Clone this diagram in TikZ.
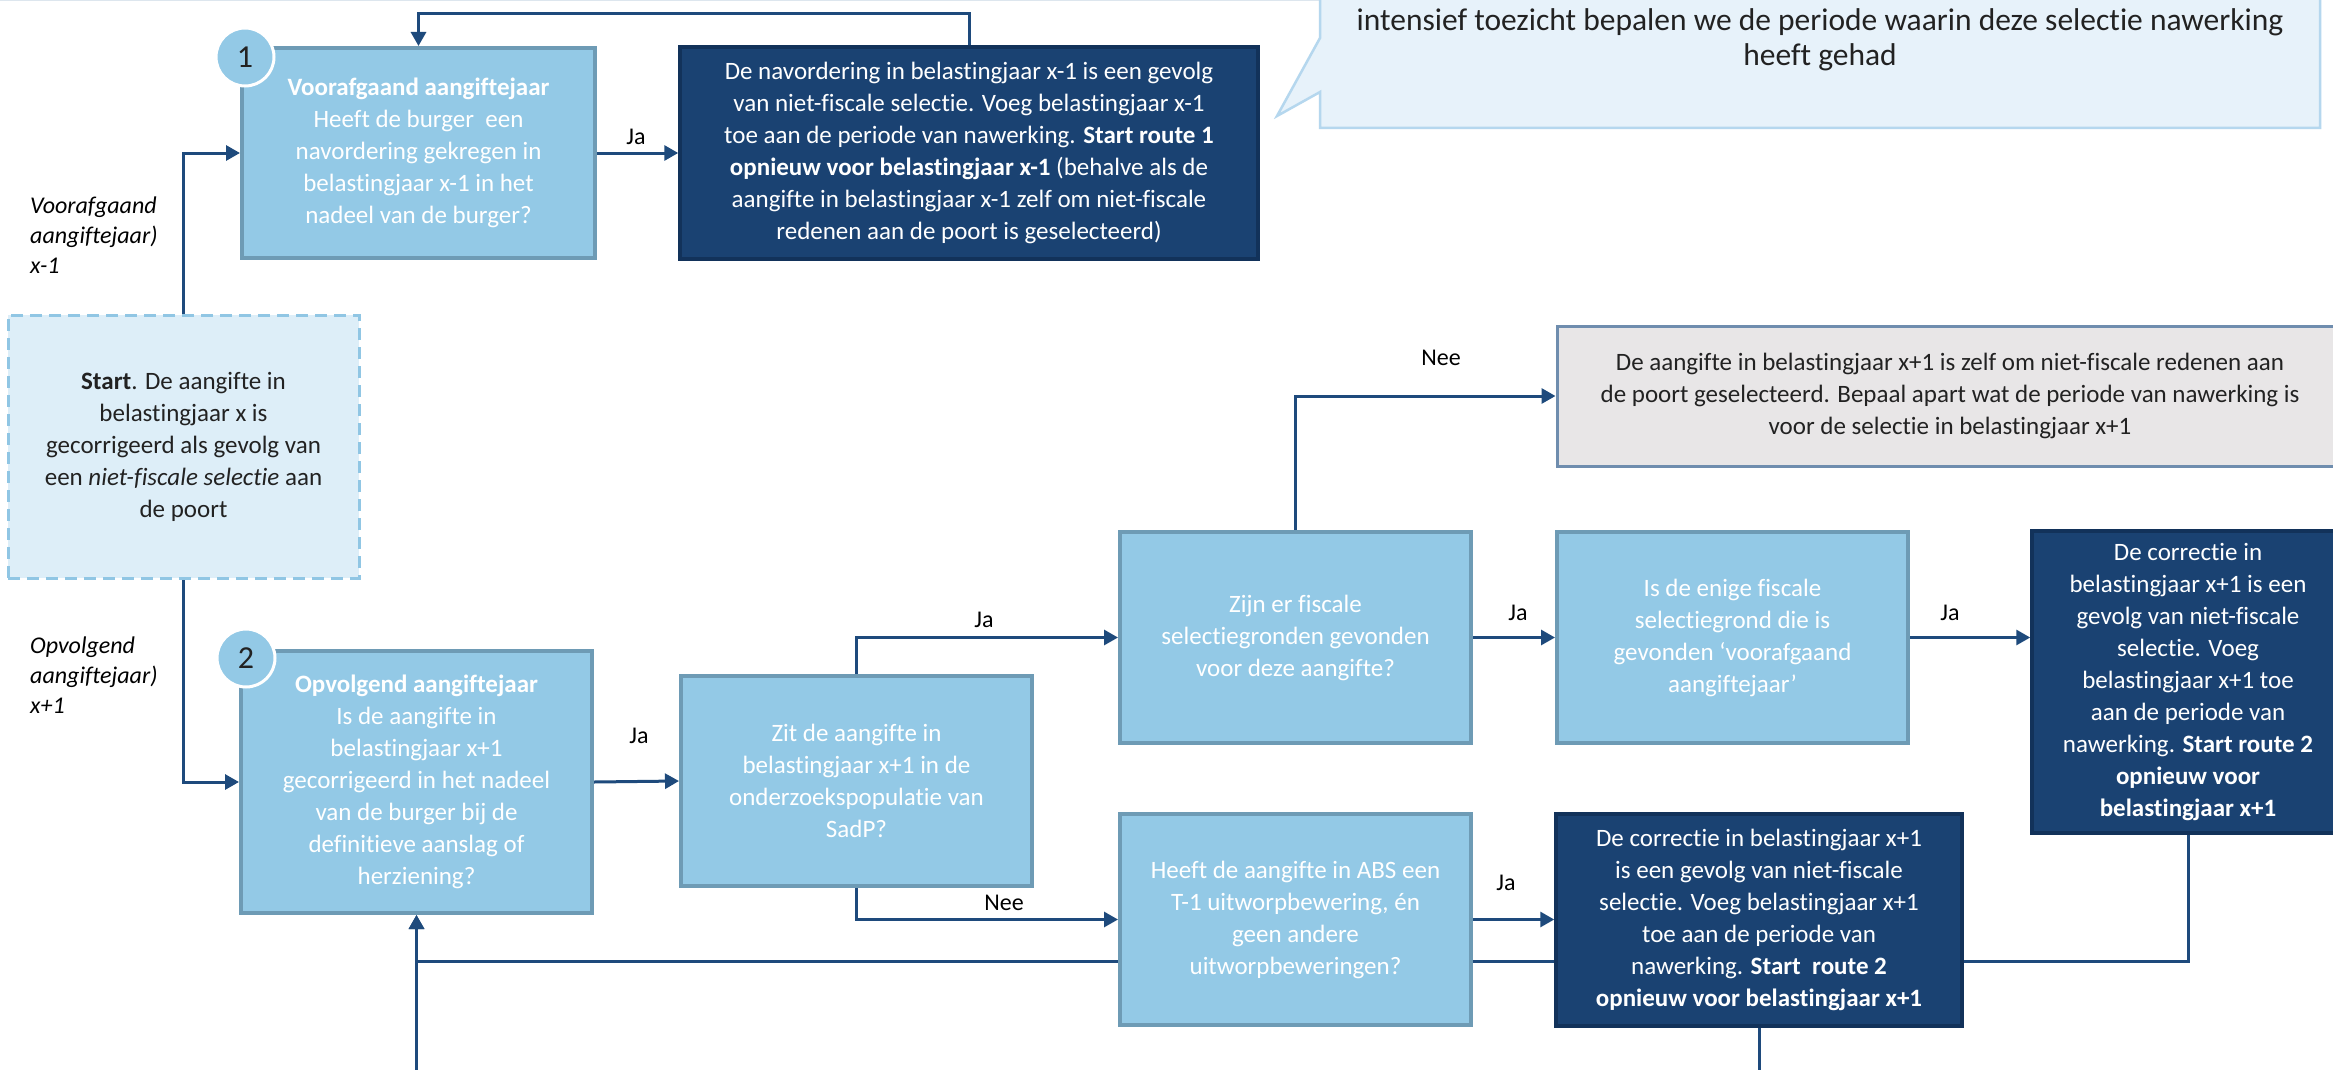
\documentclass[tikz,border=0pt]{standalone}
\usepackage{fontspec}
\setmainfont{Carlito}[Ligatures=NoCommon]
\usetikzlibrary{arrows.meta,backgrounds}
\definecolor{lightfill}{HTML}{93C9E6}
\definecolor{lightborder}{HTML}{6E9BB5}
\definecolor{darkfill}{HTML}{1A4272}
\definecolor{darkborder}{HTML}{12325A}
\definecolor{linecol}{HTML}{1E4A7C}
\definecolor{startfill}{HTML}{DDEEF8}
\definecolor{startborder}{HTML}{90C6E4}
\definecolor{greyfill}{HTML}{E8E6E7}
\definecolor{greyborder}{HTML}{6F8DAE}
\definecolor{calloutfill}{HTML}{E7F2FA}
\definecolor{calloutborder}{HTML}{B5D7EE}
\definecolor{textdark}{HTML}{222222}
\definecolor{topline}{HTML}{DDE6EE}
\begin{document}
\begin{tikzpicture}[x=1pt,y=-1pt,
  boxfont/.style={font=\fontsize{25}{32}\selectfont},
  lbox/.style={boxfont, draw=lightborder, fill=lightfill, line width=4pt, text=white, align=center, inner sep=0pt},
  dbox/.style={boxfont, draw=darkborder, fill=darkfill, line width=3.5pt, text=white, align=center, inner sep=0pt},
  gbox/.style={boxfont, draw=greyborder, fill=greyfill, line width=3pt, text=textdark, align=center, inner sep=0pt},
  sbox/.style={boxfont, draw=startborder, fill=startfill, line width=3pt, dash pattern=on 12pt off 7pt, text=textdark, align=center, inner sep=0pt},
  conn/.style={draw=linecol, line width=3pt, -{Triangle[length=14pt,width=15pt]}},
  lbl/.style={font=\fontsize{24}{30}\selectfont, text=black, inner sep=0pt},
  side/.style={font=\fontsize{24}{30}\selectfont\itshape, text=black, align=left, inner sep=0pt, anchor=west},
  numcirc/.style={circle, fill=lightfill, draw=white, line width=3pt, minimum size=58pt, inner sep=0pt, font=\fontsize{32}{32}\selectfont, text=textdark}
]
\useasboundingbox (0,0) rectangle (2333,1070);
\clip (0,0) rectangle (2333,1070);
% faint top line
\draw[topline, line width=3pt] (0,0) -- (1320,0);

% callout
\draw[calloutborder, fill=calloutfill, line width=2.5pt, line join=miter]
  (1320,-60) -- (2320,-60) -- (2320,128) -- (1320,128) -- (1320,92) -- (1277,116) -- (1320,38) -- cycle;
\node[font=\fontsize{31.5}{35}\selectfont, text=textdark, align=center, inner sep=0pt] (co) at (1820,40)
  {intensief toezicht bepalen we de periode waarin deze selectie nawerking\\heeft gehad};

% boxes
\node[lbox, minimum width=353pt, minimum height=210pt] (a1) at (418.5,153)
  {\textbf{Voorafgaand aangiftejaar}\\Heeft de burger~ een\\navordering gekregen in\\belastingjaar x-1 in het\\nadeel van de burger?};
\node[dbox, minimum width=578pt, minimum height=212pt] (b1) at (969,153)
  {De navordering in belastingjaar x-1 is een gevolg\\van niet-fiscale selectie. Voeg belastingjaar x-1\\toe aan de periode van nawerking. \textbf{Start route 1}\\\textbf{opnieuw voor belastingjaar x-1} (behalve als de\\aangifte in belastingjaar x-1 zelf om niet-fiscale\\redenen aan de poort is geselecteerd)};
\node[sbox, minimum width=351pt, minimum height=263pt] (st) at (183.5,446.5)
  {\textbf{Start}. De aangifte in\\belastingjaar x is\\gecorrigeerd als gevolg van\\een \textit{niet-fiscale selectie} aan\\de poort};
\node[lbox, minimum width=351pt, minimum height=262pt] (b3) at (416.5,782)
  {\textbf{Opvolgend aangiftejaar}\\Is de aangifte in\\belastingjaar x+1\\gecorrigeerd in het nadeel\\van de burger bij de\\definitieve aanslag of\\herziening?};
\node[lbox, minimum width=351pt, minimum height=210pt] (b4) at (856.5,781)
  {Zit de aangifte in\\belastingjaar x+1 in de\\onderzoekspopulatie van\\SadP?};
\node[lbox, minimum width=351pt, minimum height=211pt] (b5) at (1295.5,637.5)
  {Zijn er fiscale\\selectiegronden gevonden\\voor deze aangifte?};
\node[lbox, minimum width=351pt, minimum height=211pt] (b6) at (1732.5,637.5)
  {Is de enige fiscale\\selectiegrond die is\\gevonden ‘voorafgaand\\aangiftejaar’};
\node[dbox, minimum width=312pt, minimum height=302pt] (bE) at (2188,682)
  {De correctie in\\belastingjaar x+1 is een\\gevolg van niet-fiscale\\selectie. Voeg\\belastingjaar x+1 toe\\aan de periode van\\nawerking. \textbf{Start route 2}\\\textbf{opnieuw voor}\\\textbf{belastingjaar x+1}};
\node[gbox, minimum width=786pt, minimum height=140pt] (grey) at (1950,396)
  {De aangifte in belastingjaar x+1 is zelf om niet-fiscale redenen aan\\de poort geselecteerd. Bepaal apart wat de periode van nawerking is\\voor de selectie in belastingjaar x+1};
\node[lbox, minimum width=351pt, minimum height=211pt] (b7) at (1295.5,919.5)
  {Heeft de aangifte in ABS een\\T-1 uitworpbewering, én\\geen andere\\uitworpbeweringen?};
\node[dbox, minimum width=406pt, minimum height=212pt] (d) at (1759,920)
  {De correctie in belastingjaar x+1\\is een gevolg van niet-fiscale\\selectie. Voeg belastingjaar x+1\\toe aan de periode van\\nawerking. \textbf{Start~ route 2}\\\textbf{opnieuw voor belastingjaar x+1}};

% number circles
\node[numcirc] (c1) at (245,57) {1};
\node[numcirc] (c2) at (246,658) {2};

% side labels
\node[side] (sl1) at (30,235) {Voorafgaand\\aangiftejaar)\\x-1};
\node[side] (sl2) at (30,675) {Opvolgend\\aangiftejaar)\\x+1};

% edge labels
\node[lbl] (ja1) at (636,137) {Ja};
\node[lbl] (ja2) at (639,736) {Ja};
\node[lbl] (ja3) at (984,620) {Ja};
\node[lbl] (nee1) at (1004,903) {Nee};
\node[lbl] (nee2) at (1441,358) {Nee};
\node[lbl] (ja4) at (1518,613) {Ja};
\node[lbl] (ja5) at (1950,613) {Ja};
\node[lbl] (ja6) at (1506,883) {Ja};

% connectors
\begin{pgfonlayer}{background}
\clip (0,0) rectangle (2333,1070);
\fill[white] (0,0) rectangle (2333,1070);
\draw[conn] (st.north) |- (a1.west);
\draw[conn] (st.south) |- (b3.west);
\draw[conn] (a1.east) -- (b1.west);
\draw[conn] (b1.north) -- ++(0,-32) -| (a1.north);
\draw[conn] (b3.east) -- (b4.west);
\draw[conn] (b4.north) |- (b5.west);
\draw[conn] (b4.south) |- (b7.west);
\draw[conn] (b5.north) |- (grey.west);
\draw[conn] (b5.east) -- (b6.west);
\draw[conn] (b6.east) -- (b6.east -| bE.west);
\draw[conn] (b7.east) -- (b7.east -| d.west);
\draw[conn] (bE.south) -- ++(0,127) -| (b3.south);
\draw[conn] (d.south) -- ++(0,44.5) -| (b3.south);
\end{pgfonlayer}
\end{tikzpicture}
\end{document}
